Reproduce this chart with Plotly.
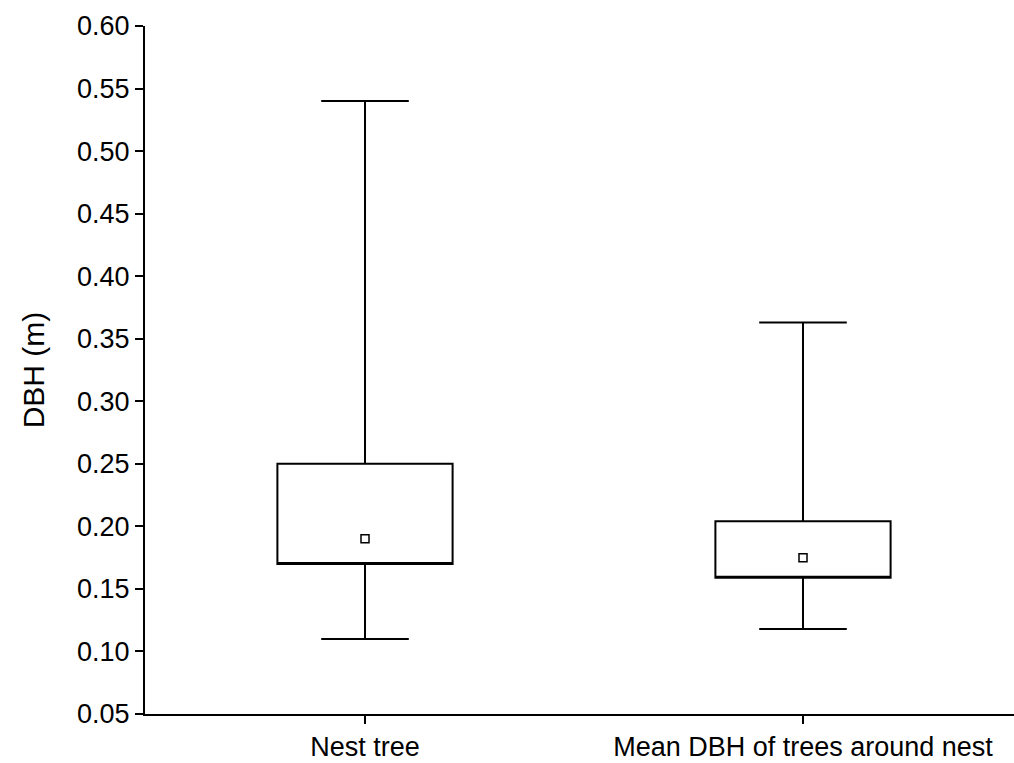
import plotly.graph_objects as go

categories = ["Nest tree", "Mean DBH of trees around nest"]
x_pos = [0, 1]
lower_whisker = [0.110, 0.118]
q1 = [0.170, 0.159]
q3 = [0.250, 0.204]
upper_whisker = [0.540, 0.363]
means = [0.190, 0.175]
y_ticks = [0.05, 0.10, 0.15, 0.20, 0.25, 0.30, 0.35, 0.40, 0.45, 0.50, 0.55, 0.60]

FONT = "Liberation Sans, Arial, sans-serif"

fig = go.Figure()
for i in range(len(categories)):
    fig.add_trace(go.Box(
        x=[x_pos[i]],
        q1=[q1[i]], median=[q1[i]], q3=[q3[i]],
        lowerfence=[lower_whisker[i]], upperfence=[upper_whisker[i]],
        width=0.4, whiskerwidth=0.5,
        fillcolor="white",
        line=dict(color="black", width=2),
        boxpoints=False,
        showlegend=False,
        hoverinfo="skip",
    ))

fig.add_trace(go.Scatter(
    x=x_pos, y=means, mode="markers",
    marker=dict(symbol="square-open", size=8, color="black", line=dict(width=1.5, color="black")),
    showlegend=False,
))

fig.update_layout(
    width=1014, height=763,
    margin=dict(l=145, r=0, t=26, b=49),
    paper_bgcolor="white", plot_bgcolor="white",
    font=dict(family=FONT, color="black"),
    xaxis=dict(
        range=[-220 / 438, 1 + 211 / 438],
        tickmode="array", tickvals=x_pos, ticktext=categories,
        ticks="outside", ticklen=8, tickwidth=1.5, tickcolor="black",
        tickfont=dict(size=27, family=FONT, color="black"),
        showline=True, linecolor="black", linewidth=2,
        showgrid=False, zeroline=False,
    ),
    yaxis=dict(
        range=[0.05, 0.60],
        tickmode="array", tickvals=y_ticks,
        ticktext=[f"{v:.2f}" for v in y_ticks],
        ticks="outside", ticklen=8, tickwidth=1.5, tickcolor="black",
        tickfont=dict(size=27, family=FONT, color="black"),
        showline=True, linecolor="black", linewidth=2,
        showgrid=False, zeroline=False,
        title=dict(text="DBH (m)", font=dict(size=30, family=FONT, color="black"), standoff=24),
    ),
)

fig.write_html("out.html")
